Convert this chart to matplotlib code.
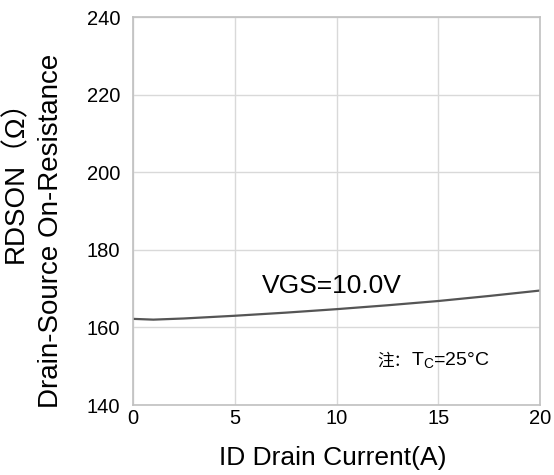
import matplotlib.pyplot as plt
import numpy as np

plt.rcParams['font.family'] = ['Liberation Sans', 'Noto Sans CJK SC', 'DejaVu Sans']

# curve
id_current = [0, 1, 2.5, 5, 7.5, 10, 12.5, 15, 17.5, 20]
rdson = [162.2, 162.0, 162.3, 163.0, 163.8, 164.7, 165.7, 166.8, 168.1, 169.5]

x_ticks = [0, 5, 10, 15, 20]
y_ticks = [140, 160, 180, 200, 220, 240]

fig = plt.figure(figsize=(5.54, 4.75), dpi=100)
ax = fig.add_axes([133 / 554, 70 / 475, 407 / 554, 388 / 475])

ax.plot(id_current, rdson, color='#555555', linewidth=1.6)

ax.set_xlim(0, 20)
ax.set_ylim(140, 240)
ax.set_xticks(x_ticks)
ax.set_yticks(y_ticks)
ax.tick_params(length=0, labelsize=14.5)
ax.tick_params(axis='y', pad=9)
ax.tick_params(axis='x', pad=3)
ax.grid(True, color='#d9d9d9', linewidth=1)
for s in ax.spines.values():
    s.set_color('#c0c0c0')
    s.set_linewidth(1.2)

# axis titles placed in pixels of the figure
fig.text(333 / 554, 1 - 458 / 475, 'ID Drain Current(A)', fontsize=19,
         ha='center', va='center')
fig.text(16 / 554, 1 - 175 / 475, 'RDSON（Ω）', fontsize=20, rotation=90,
         ha='center', va='center')
fig.text(51 / 554, 1 - 231 / 475, 'Drain-Source On-Resistance', fontsize=20,
         rotation=90, ha='center', va='center')

ax.text(9.78, 170.7, 'VGS=10.0V', fontsize=19, ha='center', va='center')
fig.text(394 / 554, 1 - 361 / 475, '注：', fontsize=12, ha='center', va='center',
         family=['Noto Sans CJK SC'])
fig.text(411 / 554, 1 - 361 / 475, 'T$_\\mathregular{C}$=25°C', fontsize=14,
         ha='left', va='center')

fig.savefig('out.png', dpi=100)
